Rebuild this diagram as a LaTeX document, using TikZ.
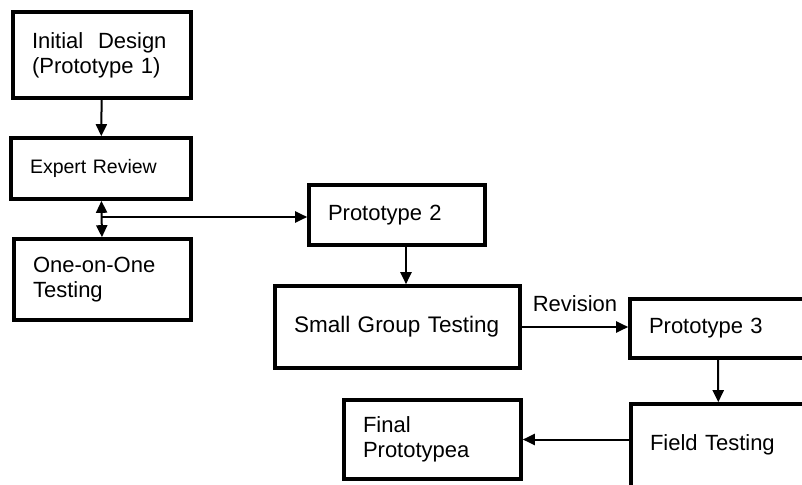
\documentclass[tikz,border=0pt]{standalone}
\usepackage{fontspec}
\setmainfont{Liberation Sans}
\usetikzlibrary{arrows.meta}
\tikzset{
  box/.style={draw, line width=3.6pt, inner xsep=19pt, inner ysep=0pt, align=left,
    font=\fontsize{22pt}{25pt}\selectfont},
  arr/.style={line width=2pt, -{Triangle[length=12pt,width=11pt]}},
  darr/.style={line width=2pt, {Triangle[length=12pt,width=11pt]}-{Triangle[length=12pt,width=11pt]}},
  lbl/.style={font=\fontsize{22pt}{25pt}\selectfont, inner sep=0pt}
}
\begin{document}
\begin{tikzpicture}[x=1pt,y=-1pt]
\useasboundingbox (0,0) rectangle (802,484);
\clip (0,0) rectangle (802,484);
\node[box, text width=140pt, minimum height=86pt] (init) at (102,55) {Initial~~Design\\(Prototype~1)};
\node[box, text width=142pt, minimum height=61pt, font=\fontsize{19.5pt}{23pt}\selectfont] (expert) at (101,168.5) {Expert~Review};
\node[box, text width=139pt, minimum height=81pt] (one) at (102.5,279.5) {One-on-One\\Testing};
\node[box, text width=138pt, minimum height=60pt] (proto2) at (397,215) {Prototype~2};
\node[box, text width=207pt, minimum height=82pt, font=\fontsize{22.5pt}{25pt}\selectfont] (small) at (397.5,327) {Small~Group~Testing};
\node[box, text width=138pt, minimum height=59pt] (proto3) at (718,328.5) {Prototype~3};
\node[box, text width=137pt, minimum height=116pt, text depth=38pt] (field) at (718.5,462) {Field~Testing};
\node[box, text width=139pt, minimum height=79pt] (final) at (432.5,439.5) {Final\\Prototypea};

\draw[arr] (init) -- (expert);
\draw[darr] (expert) -- (one);
\coordinate (j) at ([yshift=-2pt]expert.south |- proto2.west);
\draw[arr] (j) -- (j -| proto2.west);
\draw[arr] ([xshift=9pt]proto2.south) -- ([xshift=9pt]proto2.south |- small.north);
\draw[arr] (small.east) -- (small.east -| proto3.west)
  node[lbl, midway, anchor=base, yshift=16pt] {Revision};
\draw[arr] (proto3) -- (field);
\draw[arr] (final.east -| field.west) -- (final.east);
\end{tikzpicture}
\end{document}
